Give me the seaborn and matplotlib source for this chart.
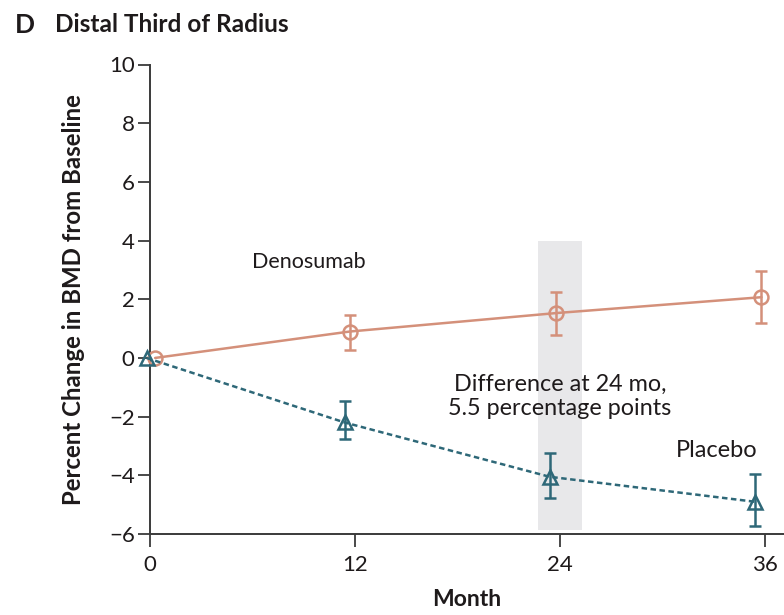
import matplotlib
matplotlib.use("Agg")
import matplotlib.pyplot as plt
import seaborn as sns
import pandas as pd
import numpy as np

# Data
months_deno = [0.3, 11.7, 23.8, 35.8]
deno_vals = [0.0, 0.9, 1.53, 2.07]
deno_lo = [0.0, 0.27, 0.77, 1.18]
deno_hi = [0.0, 1.47, 2.26, 2.95]

months_plac = [-0.2, 11.4, 23.4, 35.4]
plac_vals = [0.0, -2.2, -4.05, -4.9]
plac_lo = [0.0, -2.77, -4.79, -5.72]
plac_hi = [0.0, -1.47, -3.25, -3.94]

x_ticks = [0, 12, 24, 36]
y_ticks = [-6, -4, -2, 0, 2, 4, 6, 8, 10]
band_x = (22.7, 25.3)
band_y = (-5.87, 4.0)

DENO_C = "#d4907a"
PLAC_C = "#2e6878"
TXT_C = "#1e1a1b"
SPINE_C = "#3a3a3a"

sns.set_style("white")
plt.rcParams['font.family'] = ['Lato', 'DejaVu Sans']

fig = plt.figure(figsize=(7.84, 6.15), dpi=100)
ax = fig.add_axes([150/784, 1 - 534/615, 1 - 150/784, (534 - 64.5)/615])

ax.fill_between(band_x, band_y[0], band_y[1], color="#e8e8ea", zorder=0, linewidth=0)

df_d = pd.DataFrame({"Month": months_deno, "Value": deno_vals})
df_p = pd.DataFrame({"Month": months_plac, "Value": plac_vals})

sns.lineplot(data=df_d, x="Month", y="Value", ax=ax, color=DENO_C, linewidth=1.8,
             marker="o", markersize=10, markerfacecolor="none", markeredgecolor=DENO_C,
             markeredgewidth=1.8, clip_on=False, zorder=3)
sns.lineplot(data=df_p, x="Month", y="Value", ax=ax, color=PLAC_C, linewidth=1.8,
             linestyle=(0, (2.2, 1.4)),
             marker="^", markersize=10, markerfacecolor="none", markeredgecolor=PLAC_C,
             markeredgewidth=1.8, clip_on=False, zorder=3)

def errbars(xs, vals, lo, hi, c):
    xs = np.array(xs[1:]); vals = np.array(vals[1:])
    lo = np.array(lo[1:]); hi = np.array(hi[1:])
    ax.errorbar(xs, vals, yerr=[vals - lo, hi - vals], fmt="none", ecolor=c,
                elinewidth=1.8, capsize=4, capthick=1.8, zorder=3, clip_on=False)

errbars(months_deno, deno_vals, deno_lo, deno_hi, DENO_C)
errbars(months_plac, plac_vals, plac_lo, plac_hi, PLAC_C)

ax.set_xlim(0, 37.12)
ax.set_ylim(-6, 10)
ax.set_xticks(x_ticks)
ax.set_yticks(y_ticks)
ax.set_yticklabels([("\u2212" + str(-v)) if v < 0 else str(v) for v in y_ticks])
ax.tick_params(axis="both", direction="out", length=9, width=1.3, color=SPINE_C,
               labelsize=16, labelcolor=TXT_C, pad=2, left=True, bottom=True)
ax.tick_params(axis="x", pad=6)
for s in ["top", "right"]:
    ax.spines[s].set_visible(False)
for s in ["left", "bottom"]:
    ax.spines[s].set_color(SPINE_C)
    ax.spines[s].set_linewidth(1.4)

ax.set_xlabel("Month", fontsize=16.5, fontweight="bold", color=TXT_C, labelpad=10)
ax.set_ylabel("Percent Change in BMD from Baseline", fontsize=17.3, fontweight="bold",
              color=TXT_C, labelpad=17)

ax.text(6.0, 3.28, "Denosumab", fontsize=15.5, color=TXT_C, ha="left", va="center")
ax.text(24.0, -1.3, "Difference at 24 mo,\n5.5 percentage points", fontsize=16.8,
        color=TXT_C, ha="center", va="center", linespacing=1.2)
ax.text(30.8, -3.14, "Placebo", fontsize=17, color=TXT_C, ha="left", va="center")

fig.text(15/784, 1 - 25/615, "D", fontsize=19, fontweight="bold", color=TXT_C, va="center")
fig.text(55/784, 1 - 25/615, "Distal Third of Radius", fontsize=17.6, fontweight="bold",
         color=TXT_C, va="center")

fig.savefig("out.png", dpi=100)
